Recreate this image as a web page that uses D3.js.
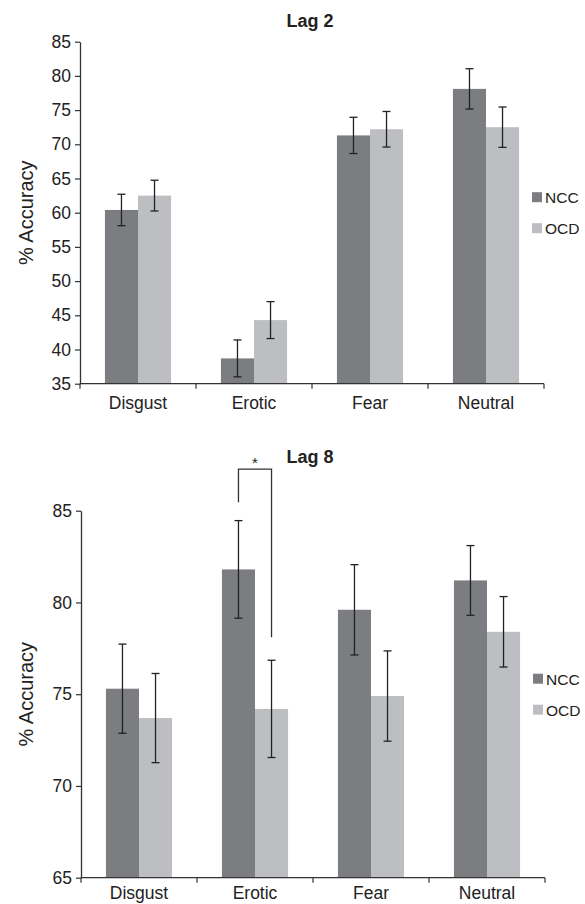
<!DOCTYPE html>
<html>
<head>
<meta charset="utf-8">
<script src="https://cdn.jsdelivr.net/npm/d3@7"></script>
<style>
body { margin: 0; background: #fff; }
svg { display: block; font-family: "Liberation Sans", Arial, sans-serif; }
</style>
</head>
<body>
<svg width="585" height="904"></svg>
<script>
var categories = ["Disgust", "Erotic", "Fear", "Neutral"];
var groups = ["NCC", "OCD"];
var colors = ["#7c7d81", "#bdbec2"];

// Lag 2 (% accuracy, error bar half-length)
var lag2NCC = [60.4, 38.7, 71.3, 78.1];
var lag2OCD = [62.5, 44.3, 72.2, 72.5];
var lag2NCCErr = [2.3, 2.7, 2.65, 2.95];
var lag2OCDErr = [2.25, 2.7, 2.6, 2.95];
var lag2Ticks = [35, 40, 45, 50, 55, 60, 65, 70, 75, 80, 85];

// Lag 8
var lag8NCC = [75.3, 81.8, 79.6, 81.2];
var lag8OCD = [73.7, 74.2, 74.9, 78.4];
var lag8NCCErr = [2.43, 2.66, 2.46, 1.9];
var lag8OCDErr = [2.43, 2.65, 2.46, 1.92];
var lag8Ticks = [65, 70, 75, 80, 85];

// significance bracket on lag 8: top level, left leg end, right leg end
var lag8Sig = {category: "Erotic", label: "*", top: 87.27, left: 85.46, right: 78.1};

var svg = d3.select("svg");
var ink = "#222";

function drawPanel(opt) {
  var g = svg.append("g");

  var x0 = d3.scaleBand().domain(categories)
      .range([opt.left, opt.right])
      .paddingInner(0.43).paddingOuter(0.215);
  var x1 = d3.scaleBand().domain(groups).range([0, x0.bandwidth()]);
  var y = d3.scaleLinear().domain(d3.extent(opt.ticks)).range([opt.bottom, opt.top]);
  var color = d3.scaleOrdinal().domain(groups).range(colors);

  var rows = [];
  categories.forEach(function(c, i) {
    rows.push({cat: c, grp: "NCC", v: opt.ncc[i], e: opt.nccErr[i]});
    rows.push({cat: c, grp: "OCD", v: opt.ocd[i], e: opt.ocdErr[i]});
  });

  // bars
  g.selectAll(".bar")
      .data(rows)
      .enter().append("rect")
      .attr("class", "bar")
      .attr("x", function(d) { return x0(d.cat) + x1(d.grp); })
      .attr("width", x1.bandwidth())
      .attr("y", function(d) { return y(d.v); })
      .attr("height", function(d) { return opt.bottom - y(d.v); })
      .attr("fill", function(d) { return color(d.grp); });

  // error bars
  var eb = g.selectAll(".err")
      .data(rows)
      .enter().append("g")
      .attr("class", "err")
      .attr("transform", function(d) {
        return "translate(" + (x0(d.cat) + x1(d.grp) + x1.bandwidth() / 2) + ",0)";
      })
      .attr("stroke", ink)
      .attr("stroke-width", 1.3);
  eb.append("line")
      .attr("y1", function(d) { return y(d.v - d.e); })
      .attr("y2", function(d) { return y(d.v + d.e); });
  eb.append("line")
      .attr("x1", -4).attr("x2", 4)
      .attr("y1", function(d) { return y(d.v + d.e); })
      .attr("y2", function(d) { return y(d.v + d.e); });
  eb.append("line")
      .attr("x1", -4).attr("x2", 4)
      .attr("y1", function(d) { return y(d.v - d.e); })
      .attr("y2", function(d) { return y(d.v - d.e); });

  // y axis
  var ya = g.append("g")
      .attr("transform", "translate(" + opt.left + ",0)")
      .call(d3.axisLeft(y).tickValues(opt.ticks).tickSize(5).tickSizeOuter(0).tickPadding(4));
  ya.select(".domain").attr("stroke", "#333").attr("stroke-width", 1.3);
  ya.selectAll(".tick line").attr("stroke", "#333").attr("stroke-width", 1.2);
  ya.selectAll(".tick text").attr("fill", ink).style("font-size", "17.5px").attr("font-family", null);

  // x axis: line, boundary ticks, labels
  var xa = g.append("g");
  xa.append("line")
      .attr("x1", opt.left).attr("x2", opt.right)
      .attr("y1", opt.bottom).attr("y2", opt.bottom)
      .attr("stroke", "#333").attr("stroke-width", 1.3);
  var half = (x0.step() - x0.bandwidth()) / 2;
  var bounds = categories.map(function(c) { return x0(c) - half; }).concat([opt.right]);
  xa.selectAll(".xtick")
      .data(bounds)
      .enter().append("line")
      .attr("class", "xtick")
      .attr("x1", function(d) { return d; }).attr("x2", function(d) { return d; })
      .attr("y1", opt.bottom).attr("y2", opt.bottom + 5)
      .attr("stroke", "#333").attr("stroke-width", 1.2);
  xa.selectAll(".xlabel")
      .data(categories)
      .enter().append("text")
      .attr("class", "xlabel")
      .attr("x", function(d) { return x0(d) + x0.bandwidth() / 2; })
      .attr("y", opt.bottom + opt.labelGap)
      .attr("text-anchor", "middle")
      .attr("fill", ink)
      .style("font-size", "17.5px")
      .text(function(d) { return d; });

  // y label
  var mid = (opt.top + opt.bottom) / 2;
  g.append("text")
      .attr("transform", "translate(33," + mid + ") rotate(-90)")
      .attr("text-anchor", "middle")
      .attr("fill", ink)
      .style("font-size", "20px")
      .text("% Accuracy");

  // title
  g.append("text")
      .attr("x", 310).attr("y", opt.titleY)
      .attr("text-anchor", "middle")
      .attr("fill", ink)
      .style("font-size", "18px")
      .style("font-weight", "bold")
      .text(opt.title);

  // legend
  var lg = g.selectAll(".legend")
      .data(groups)
      .enter().append("g")
      .attr("class", "legend")
      .attr("transform", function(d, i) {
        return "translate(" + (opt.right - 12) + "," + (mid + (i - 0.5) * 31) + ")";
      });
  lg.append("rect")
      .attr("x", 0).attr("y", -5)
      .attr("width", 10).attr("height", 10)
      .attr("fill", function(d) { return color(d); });
  lg.append("text")
      .attr("x", 13).attr("y", 6)
      .attr("fill", ink)
      .style("font-size", "15.5px")
      .text(function(d) { return d; });

  // significance bracket
  if (opt.sig) {
    var s = opt.sig;
    var xl = x0(s.category) + x1("NCC") + x1.bandwidth() / 2;
    var xr = x0(s.category) + x1("OCD") + x1.bandwidth() / 2;
    g.append("path")
        .attr("d", "M" + xl + "," + y(s.left) + "V" + y(s.top) + "H" + xr + "V" + y(s.right))
        .attr("fill", "none")
        .attr("stroke", "#333")
        .attr("stroke-width", 1.3);
    g.append("text")
        .attr("x", (xl + xr) / 2).attr("y", y(s.top) - 1)
        .attr("text-anchor", "middle")
        .attr("fill", ink)
        .style("font-size", "15px")
        .text(s.label);
  }
}

drawPanel({
  title: "Lag 2", titleY: 26.7,
  left: 80, right: 544, top: 41.7, bottom: 383.7, labelGap: 25.5,
  ncc: lag2NCC, ocd: lag2OCD, nccErr: lag2NCCErr, ocdErr: lag2OCDErr,
  ticks: lag2Ticks
});

drawPanel({
  title: "Lag 8", titleY: 463,
  left: 81, right: 545, top: 510.7, bottom: 877.7, labelGap: 21.5,
  ncc: lag8NCC, ocd: lag8OCD, nccErr: lag8NCCErr, ocdErr: lag8OCDErr,
  ticks: lag8Ticks, sig: lag8Sig
});
</script>
</body>
</html>
